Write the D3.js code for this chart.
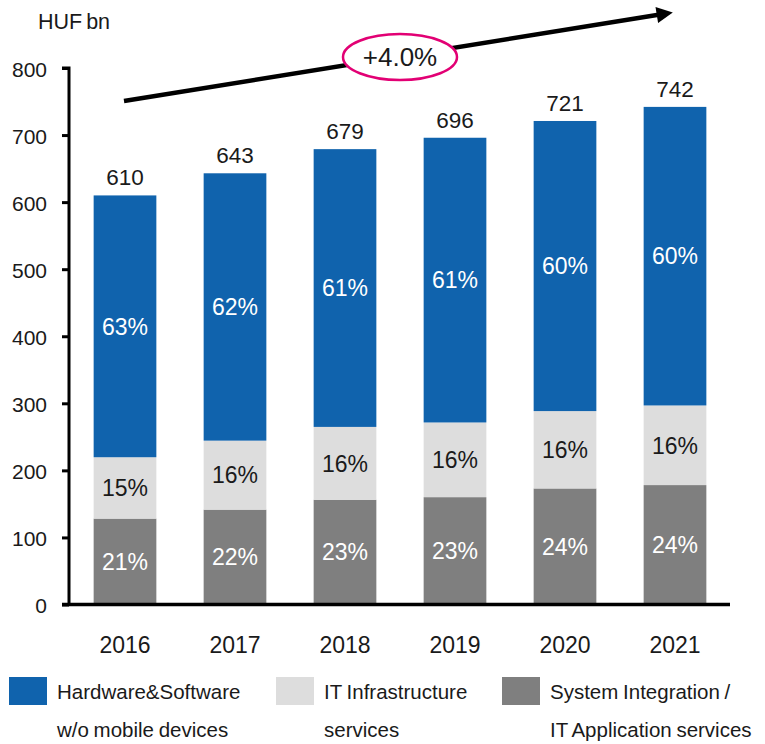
<!DOCTYPE html>
<html>
<head>
<meta charset="utf-8">
<script src="https://cdn.jsdelivr.net/npm/d3@7"></script>
<style>
  html, body { margin: 0; padding: 0; background: #fff; }
  svg { display: block; font-family: "Liberation Sans", Arial, sans-serif; }
</style>
</head>
<body>
<svg id="chart" width="765" height="744"></svg>
<script>
// Hungarian IT market, HUF bn
const years = ["2016", "2017", "2018", "2019", "2020", "2021"];
const totals = [610, 643, 679, 696, 721, 742];
const sysIntegrationPct = [21, 22, 23, 23, 24, 24];
const infraPct = [15, 16, 16, 16, 16, 16];
const hwSwPct = [63, 62, 61, 61, 60, 60];
const yTicks = [0, 100, 200, 300, 400, 500, 600, 700, 800];
const cagrLabel = "+4.0%";
const unitLabel = "HUF bn";

const colors = { sys: "#7f7f7f", infra: "#dddddd", hw: "#1063ad" };
const FONT = "'Liberation Sans', Arial, sans-serif";
const INK = "#1a1a1a";

const svg = d3.select("#chart");

const x = d3.scaleBand().domain(years).range([70, 730]).paddingInner(0.43).paddingOuter(0.215);
const y = d3.scaleLinear().domain([0, 800]).range([604.5, 68]);

// stacked segments, bottom to top; the top segment closes at the stated total
const rows = years.map((yr, i) => {
  const sys = totals[i] * sysIntegrationPct[i] / 100;
  const infra = totals[i] * infraPct[i] / 100;
  return [
    { key: "sys", y0: 0, y1: sys, pct: sysIntegrationPct[i], text: "#ffffff" },
    { key: "infra", y0: sys, y1: sys + infra, pct: infraPct[i], text: INK },
    { key: "hw", y0: sys + infra, y1: totals[i], pct: hwSwPct[i], text: "#ffffff" }
  ].map(s => Object.assign(s, { year: yr }));
});

const segs = rows.flat();

svg.append("g").selectAll("rect").data(segs).join("rect")
  .attr("x", d => x(d.year))
  .attr("width", x.bandwidth())
  .attr("y", d => y(d.y1))
  .attr("height", d => y(d.y0) - y(d.y1))
  .attr("fill", d => colors[d.key]);

svg.append("g").selectAll("text").data(segs).join("text")
  .attr("x", d => x(d.year) + x.bandwidth() / 2)
  .attr("y", d => (y(d.y0) + y(d.y1)) / 2)
  .attr("dy", "0.36em")
  .attr("text-anchor", "middle")
  .attr("font-size", 23)
  .attr("fill", d => d.text)
  .text(d => d.pct + "%");

// totals above bars
svg.append("g").selectAll("text").data(years).join("text")
  .attr("x", d => x(d) + x.bandwidth() / 2)
  .attr("y", (d, i) => y(totals[i]) - 10)
  .attr("text-anchor", "middle")
  .attr("font-size", 22.5)
  .attr("fill", INK)
  .text((d, i) => totals[i]);

// y axis
const yAxis = svg.append("g").attr("transform", "translate(69,0)")
  .call(d3.axisLeft(y).tickValues(yTicks).tickSize(7).tickPadding(15));
yAxis.select(".domain").attr("stroke", "#000").attr("stroke-width", 3)
  .attr("d", `M-7,${y(800)}H0V${y(0)}`);
yAxis.selectAll(".tick line").attr("stroke", "#000").attr("stroke-width", 3);
yAxis.selectAll(".tick text").attr("font-size", 21).attr("fill", INK)
  .attr("dy", "0.4em")
  .attr("font-family", FONT);

// x axis baseline
const xAxis = svg.append("g").attr("transform", `translate(0,${y(0)})`)
  .call(d3.axisBottom(x).tickSize(0).tickPadding(32));
xAxis.select(".domain").attr("stroke", "#000").attr("stroke-width", 3.5)
  .attr("d", "M62,0H730");
xAxis.selectAll(".tick text").attr("font-size", 23).attr("fill", INK)
  .attr("font-family", FONT);

// unit label
svg.append("text").attr("x", 38).attr("y", 29).attr("font-size", 21.5)
  .attr("word-spacing", -2)
  .attr("fill", INK).text(unitLabel);

// growth arrow
svg.append("defs").append("marker")
  .attr("id", "head").attr("viewBox", "0 0 10 10").attr("refX", 2).attr("refY", 5)
  .attr("markerWidth", 4).attr("markerHeight", 3.6).attr("orient", "auto")
  .append("path").attr("d", "M0,0L10,5L0,10Z").attr("fill", "#000");
svg.append("line")
  .attr("x1", 124).attr("y1", 101).attr("x2", 660).attr("y2", 14.5)
  .attr("stroke", "#000").attr("stroke-width", 4.5)
  .attr("marker-end", "url(#head)");

svg.append("ellipse").attr("cx", 400).attr("cy", 57).attr("rx", 57).attr("ry", 23)
  .attr("fill", "#fff").attr("stroke", "#e20074").attr("stroke-width", 2.5);
svg.append("text").attr("x", 400).attr("y", 57).attr("dy", "0.36em")
  .attr("text-anchor", "middle").attr("font-size", 26)
  .attr("fill", INK)
  .text(cagrLabel);

// legend
const legend = [
  { key: "hw", x: 9, lines: ["Hardware&Software", "w/o mobile devices"] },
  { key: "infra", x: 276, lines: ["IT Infrastructure", "services"] },
  { key: "sys", x: 502, lines: ["System Integration /", "IT Application services"] }
];
const lg = svg.append("g").selectAll("g").data(legend).join("g")
  .attr("transform", d => `translate(${d.x},677)`);
lg.append("rect").attr("width", 38).attr("height", 28).attr("fill", d => colors[d.key]);
lg.append("text").attr("y", 21.5).attr("font-size", 20.5).attr("word-spacing", -1)
  .attr("fill", INK)
  .selectAll("tspan").data(d => d.lines).join("tspan")
  .attr("x", 48).attr("dy", (d, i) => i === 0 ? 0 : 38.5)
  .text(d => d);
</script>
</body>
</html>
